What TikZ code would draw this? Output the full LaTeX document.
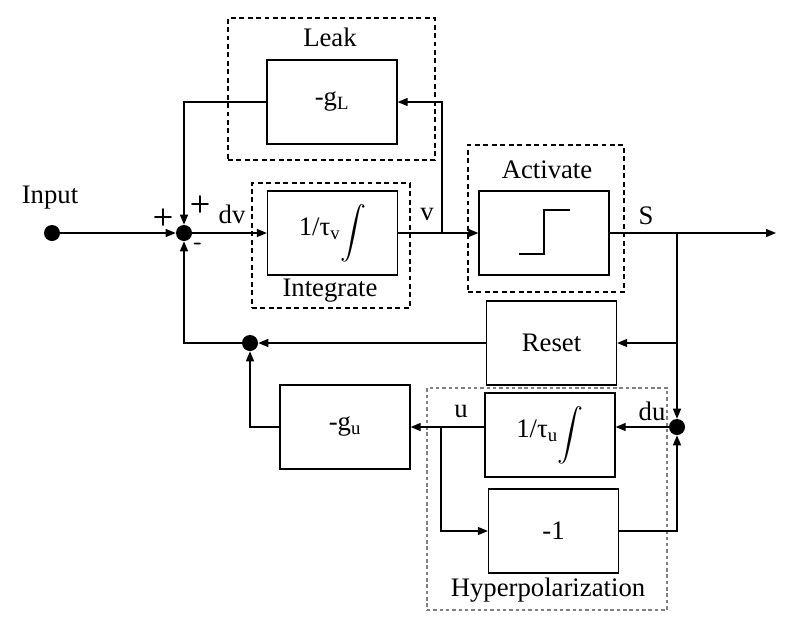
\documentclass[tikz,border=0pt]{standalone}
\usepackage{fontspec}
\setmainfont{Liberation Serif}
\usepackage{tikz}
\usetikzlibrary{arrows.meta, positioning, calc}

\newcommand{\bigint}{\raisebox{-0.22cm}{\resizebox{!}{1.0cm}{$\displaystyle\int$}}}

\tikzset{
  blk/.style={draw, line width=0.9pt, minimum width=3.25cm, minimum height=2.1cm, inner sep=0pt},
  grp/.style={draw, line width=0.8pt, dash pattern=on 3.5pt off 2.5pt, inner sep=0pt},
  dot/.style={circle, fill, inner sep=0pt, minimum size=0.4cm},
  sig/.style={-{Triangle[length=0.25cm, width=0.2cm]}, line width=0.9pt},
  wire/.style={line width=0.9pt},
  lbl/.style={inner sep=0pt},
  sgn/.style={inner sep=0pt, font=\sffamily\bfseries\fontsize{17}{20}\selectfont}
}

\begin{document}
\begin{tikzpicture}[x=0.025cm, y=-0.025cm, font=\fontsize{19}{22}\selectfont]
  \useasboundingbox (0,0) rectangle (795,621);

  % Dashed groups
  \node[grp, minimum width=5.175cm, minimum height=3.55cm] (leakgrp) at (331.5,89) {};
  \node[grp, minimum width=3.95cm, minimum height=3.125cm] (intgrp) at (331,245.5) {};
  \node[grp, minimum width=3.9cm, minimum height=3.675cm] (actgrp) at (546,218.5) {};
  \node[grp, gray, dash pattern=on 2.5pt off 2pt, minimum width=6cm, minimum height=5.55cm] (hypgrp) at (547,499) {};

  \node[lbl] (leaktxt) at (330,37) {Leak};
  \node[lbl] (inttxt) at (330,291) {Integrate};
  \node[lbl] (acttxt) at (547,170) {Activate};
  \node[lbl] (hyptxt) at (548,590) {Hyperpolarization};

  % Blocks
  \node[blk] (leakblk) at (332,102) {-g\textsubscript{L}};
  \node[blk] (intblk) at (332.5,233) {1/τ\textsubscript{v}\bigint};
  \node[blk] (actblk) at (544,233) {};
  \node[blk] (resetblk) at (551.5,343) {Reset};
  \node[blk] (gublk) at (345,427) {-g\textsubscript{u}};
  \node[blk] (intublk) at (550,435) {1/τ\textsubscript{u}\bigint};
  \node[blk] (negblk) at (553.5,531) {-1};

  % Step symbol
  \draw[wire] (519,254) -- (544,254) -- (544,210) -- (570,210);

  % Dots and taps
  \node[dot] (input) at (52,233) {};
  \node[dot] (sum) at (184,233) {};
  \node[dot] (rdot) at (250,343) {};
  \node[dot] (dudot) at (677,427) {};
  \coordinate (vtap) at (442,233);
  \coordinate (stap) at (677,233);
  \coordinate (utap) at (441,427);
  \coordinate (out) at (776,233);

  % Forward path
  \draw[sig] (input) -- (sum);
  \draw[sig] (sum) -- (intblk.west);
  \draw[sig] (intblk.east) -- (actblk.west);
  \draw[sig] (actblk.east) -- (out);

  % Leak loop
  \draw[sig] (vtap) |- (leakblk.east);
  \draw[sig] (leakblk.west) -| (sum);

  % Reset loop
  \draw[sig] (stap) -- (dudot);
  \draw[sig] (stap |- resetblk.east) -- (resetblk.east);
  \draw[sig] (resetblk.west) -- (rdot);
  \draw[sig] (rdot) -| (sum);

  % Hyperpolarization loop
  \draw[sig] (dudot) -- (intublk.east |- dudot);
  \draw[sig] (intublk.west |- dudot) -- (gublk.east);
  \draw[sig] (utap) |- (negblk.west);
  \draw[sig] (negblk.east) -| (dudot);
  \draw[sig] (gublk.west) -| (rdot);

  % Signal labels
  \node[lbl] (intxt) at (50,198) {Input};
  \node[sgn] (plusa) at (163,218) {+};
  \node[sgn] (plusb) at (200,205) {+};
  \node[sgn] (minus) at (198,246) {-};
  \node[lbl] (dvtxt) at (232,214) {dv};
  \node[lbl] (vtxt) at (427,214) {v};
  \node[lbl] (stxt) at (646,216) {S};
  \node[lbl] (utxt) at (461,411) {u};
  \node[lbl] (dutxt) at (652,411) {du};
\end{tikzpicture}
\end{document}
